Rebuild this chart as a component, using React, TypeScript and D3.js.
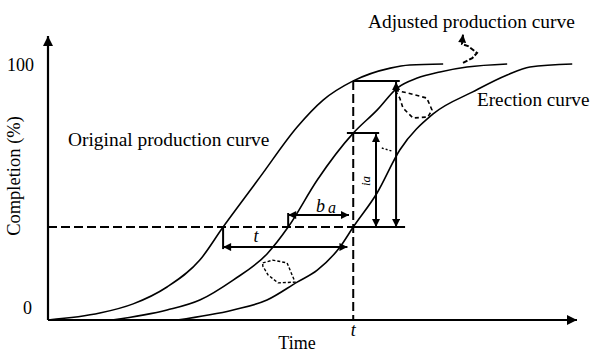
import React from "react";
import * as d3 from "d3";

// ---- Data (time in arbitrary units 0..100, completion in %) ----
const originalTime = [0, 9.8, 16.1, 22.5, 28.7, 33.1, 36.3, 40.1, 47.1, 52.0, 57.7, 64.7, 68.4, 74.7];
const originalPct = [0, 2.7, 6.3, 12.9, 23.4, 36.3, 45.3, 55.9, 75.4, 85.9, 93.4, 98.4, 99.6, 100];

const adjustedTime = [12.1, 22.5, 28.7, 35.0, 41.4, 45.4, 50.9, 57.7, 62.2, 66.0, 69.8, 74.1, 79.2, 86.8];
const adjustedPct = [0, 3.9, 7.8, 15.6, 25.8, 36.3, 54.7, 73.0, 82.0, 90.6, 94.5, 96.9, 98.8, 100];

const erectionTime = [24.4, 35.0, 41.4, 47.1, 50.9, 55.2, 57.7, 62.2, 66.5, 72.8, 80.3, 86.8, 91.1, 99.1];
const erectionPct = [0, 3.9, 7.8, 14.8, 19.5, 28.5, 36.3, 49.6, 66.4, 80.5, 89.1, 95.7, 98.8, 100];

const yTickValues = [0, 100];
const yTickLabels = ["0", "100"];

// annotation values
const tMark = 57.7; // time t
const baseLevel = 36.3; // erection completion at t
const originalLevel = 93.4; // original production at t
const adjustedLevel = 73.0; // adjusted production at t
const adjustedAtBase = 45.4; // time adjusted reaches base level
const originalAtBase = 33.1; // time original reaches base level

// callout (dashed) shapes in data units
const calloutTop: [number, number][] = [
  [78.45, 100.4], [80.2, 102.3], [81.1, 104.3], [79.4, 107.0], [78.26, 107.8], [78.45, 111.5],
];
const calloutMid: [number, number][] = [
  [65.6, 89.8], [67.9, 88.7], [71.6, 86.7], [72.6, 82.0], [71.8, 79.3], [69.0, 78.9], [67.1, 82.8], [66.5, 86.7],
];
const calloutLow: [number, number][] = [
  [40.6, 22.3], [42.5, 23.4], [45.2, 22.3], [46.7, 14.8], [43.5, 14.5], [41.6, 17.6], [40.6, 21.1],
];
const calloutSmall: [number, number][] = [
  [63.1, 67.2], [65.0, 66.0],
];

const W = 591;
const H = 354;

export default function App() {
  const x = d3.scaleLinear().domain([0, 100]).range([48, 577]);
  const y = d3.scaleLinear().domain([0, 100]).range([320, 64]);

  const line = d3
    .line<[number, number]>()
    .x((d) => x(d[0]))
    .y((d) => y(d[1]))
    .curve(d3.curveMonotoneX);

  const straight = d3
    .line<[number, number]>()
    .x((d) => x(d[0]))
    .y((d) => y(d[1]));

  const zip = (ts: number[], ps: number[]) => ts.map((t, i) => [t, ps[i]] as [number, number]);

  const curves = [zip(originalTime, originalPct), zip(adjustedTime, adjustedPct), zip(erectionTime, erectionPct)];

  const font = "'Liberation Serif', 'Times New Roman', serif";
  const x0 = x(0);
  const y0 = y(0);

  return (
    <svg
      width={W}
      height={H}
      style={{ position: "absolute", left: 0, top: 0, background: "#fff" }}
      fontFamily={font}
    >
      <defs>
        <marker id="ah" viewBox="0 0 10 10" refX="10" refY="5" markerWidth="11" markerHeight="8"
          markerUnits="userSpaceOnUse" orient="auto-start-reverse">
          <path d="M0,0L10,5L0,10z" fill="#000" />
        </marker>
        <marker id="axah" viewBox="0 0 10 10" refX="10" refY="5" markerWidth="13" markerHeight="10"
          markerUnits="userSpaceOnUse" orient="auto">
          <path d="M0,0L10,5L0,10z" fill="#000" />
        </marker>
        <marker id="sah" viewBox="0 0 10 10" refX="10" refY="5" markerWidth="9" markerHeight="8"
          markerUnits="userSpaceOnUse" orient="auto">
          <path d="M0,0L10,5L0,10z" fill="#000" />
        </marker>
      </defs>

      {/* curves */}
      {curves.map((c, i) => (
        <path key={i} d={line(c) || ""} fill="none" stroke="#000" strokeWidth={1.6} />
      ))}

      {/* axes */}
      <line x1={x0} y1={y0} x2={x0} y2={36} stroke="#000" strokeWidth={2.2} markerEnd="url(#axah)" />
      <line x1={x0} y1={y0} x2={577} y2={y0} stroke="#000" strokeWidth={1.8} markerEnd="url(#axah)" />

      {/* y tick labels */}
      {yTickValues.map((v, i) => (
        <text key={v} x={i === 0 ? 32 : 34} y={y(v) + (i === 0 ? -6 : 7)} textAnchor="end" fontSize={18}>
          {yTickLabels[i]}
        </text>
      ))}

      {/* dashed lines */}
      <line x1={x0} y1={y(baseLevel)} x2={x(tMark)} y2={y(baseLevel)} stroke="#000" strokeWidth={2}
        strokeDasharray="9,4" />
      <line x1={x(tMark)} y1={y(originalLevel)} x2={x(tMark)} y2={y0} stroke="#000" strokeWidth={2}
        strokeDasharray="9,4" />

      {/* solid level lines */}
      <line x1={x(tMark)} y1={y(baseLevel)} x2={x(67.5)} y2={y(baseLevel)} stroke="#000" strokeWidth={2} />
      <line x1={x(tMark)} y1={y(originalLevel)} x2={x(66.5)} y2={y(originalLevel)} stroke="#000" strokeWidth={2} />
      <line x1={x(56.5)} y1={y(adjustedLevel)} x2={x(62.6)} y2={y(adjustedLevel)} stroke="#000" strokeWidth={2} />

      {/* vertical double arrows i and ia */}
      <line x1={x(65.8)} y1={y(originalLevel) + 1} x2={x(65.8)} y2={y(baseLevel)} stroke="#000" strokeWidth={2}
        markerStart="url(#ah)" markerEnd="url(#ah)" />
      <line x1={x(62.0)} y1={y(adjustedLevel) + 1} x2={x(62.0)} y2={y(baseLevel)} stroke="#000" strokeWidth={2}
        markerStart="url(#ah)" markerEnd="url(#ah)" />

      {/* b_a arrow */}
      <line x1={x(adjustedAtBase)} y1={y(baseLevel)} x2={x(adjustedAtBase)} y2={y(41.8)} stroke="#000" strokeWidth={2} />
      <line x1={x(adjustedAtBase)} y1={y(41.0)} x2={x(56.9)} y2={y(41.0)} stroke="#000" strokeWidth={2}
        markerStart="url(#ah)" markerEnd="url(#ah)" />

      {/* t arrow */}
      <line x1={x(originalAtBase)} y1={y(baseLevel)} x2={x(originalAtBase)} y2={y(27.7)} stroke="#000" strokeWidth={2} />
      <line x1={x(originalAtBase)} y1={y(28.5)} x2={x(56.6)} y2={y(28.5)} stroke="#000" strokeWidth={2}
        markerStart="url(#ah)" markerEnd="url(#ah)" />

      {/* callouts */}
      <path d={straight(calloutTop) || ""} fill="none" stroke="#000" strokeWidth={2} strokeDasharray="5,2"
        markerEnd="url(#sah)" />
      <path d={(straight(calloutMid) || "") + "Z"} fill="none" stroke="#000" strokeWidth={1.6} strokeDasharray="4,3" />
      <path d={(straight(calloutLow) || "") + "Z"} fill="none" stroke="#000" strokeWidth={1.4} strokeDasharray="3,2" />
      <path d={straight(calloutSmall) || ""} fill="none" stroke="#000" strokeWidth={1.4} strokeDasharray="2,2" />

      {/* labels */}
      <text x={368} y={28} fontSize={19.4}>Adjusted production curve</text>
      <text x={477} y={106} fontSize={19.2}>Erection curve</text>
      <text x={68} y={146} fontSize={19.4}>Original production curve</text>
      <text transform="translate(20,176) rotate(-90)" textAnchor="middle" fontSize={18.5}>Completion (%)</text>
      <text x={297} y={349} textAnchor="middle" fontSize={18}>Time</text>
      <text x={x(tMark)} y={336} textAnchor="middle" fontSize={18} fontStyle="italic">t</text>
      <text x={256} y={242} textAnchor="middle" fontSize={18} fontStyle="italic">t</text>
      <text x={316} y={212} fontSize={18} fontStyle="italic">
        b<tspan dx={3} dy={1} fontSize={16}>a</tspan>
      </text>
      <text transform="translate(370,181) rotate(-90)" textAnchor="middle" fontSize={13} fontStyle="italic">ia</text>
    </svg>
  );
}
